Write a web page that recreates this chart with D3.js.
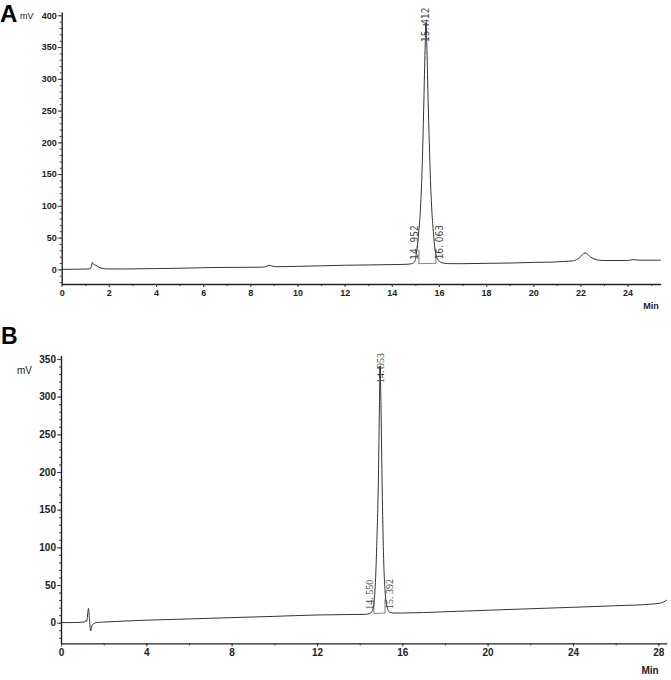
<!DOCTYPE html>
<html>
<head>
<meta charset="utf-8">
<script src="https://cdn.jsdelivr.net/npm/d3@7"></script>
<style>
  body { margin: 0; background: #fff; }
  svg { display: block; font-family: "Liberation Sans", Arial, sans-serif; }
</style>
</head>
<body>
<svg id="chart" width="671" height="680"></svg>
<script>
// ---- panel A trace: [time (min), signal (mV)] ----
var traceA = [
  [0, 0], [0.5, 0.2], [1.0, 0.5], [1.2, 0.8], [1.26, 5], [1.3, 11], [1.36, 7.5],
  [1.45, 6.5], [1.55, 4], [1.7, 2], [1.9, 0.8], [2.5, 0.6], [3.5, 1], [4.5, 1.5],
  [5.5, 2.2], [6.5, 3], [7.5, 3.2], [8.5, 3.5], [8.7, 5], [8.8, 6.5], [8.9, 5.5],
  [9.1, 4.2], [10, 4.8], [11, 5.6], [12, 6.5], [13, 7], [14, 7.5], [14.6, 8],
  [14.85, 9], [14.98, 13], [15.06, 30], [15.15, 62], [15.22, 98], [15.3, 175],
  [15.36, 265], [15.41, 345], [15.45, 385], [15.49, 345], [15.54, 265], [15.59, 200],
  [15.64, 140], [15.69, 98], [15.76, 60], [15.83, 32], [15.92, 18], [16.05, 12],
  [16.2, 9.8], [16.5, 9], [17, 9], [18, 9.5], [19, 10], [20, 11], [20.8, 11.5],
  [21.3, 12.5], [21.7, 13.5], [21.95, 18], [22.2, 26], [22.45, 19], [22.7, 15],
  [23, 14], [24, 14], [24.25, 15.5], [24.45, 14.5], [25.4, 14.5]
];

// ---- panel B trace ----
var traceB = [
  [0, 0], [0.6, 0.2], [1.1, 0.8], [1.15, 3], [1.2, 1.5], [1.29, 19], [1.34, 2],
  [1.39, -11], [1.45, -4], [1.55, -1], [1.7, 0.3], [2, 0.8], [4, 3.3], [6, 5],
  [8, 6.7], [10, 8.4], [12, 10.2], [13.5, 10.8], [14.2, 11], [14.45, 11.8],
  [14.6, 16], [14.72, 43], [14.8, 101], [14.88, 192], [14.93, 290], [14.96, 338],
  [15.0, 290], [15.05, 192], [15.11, 101], [15.19, 43], [15.28, 22], [15.4, 14],
  [15.6, 12.8], [16, 12.8], [18, 14.5], [20, 16.5], [22, 18.5], [24, 20.4],
  [26, 22.5], [27.6, 24.5], [28.1, 26], [28.4, 30]
];

// axis ticks
var xTicksA = [0, 2, 4, 6, 8, 10, 12, 14, 16, 18, 20, 22, 24];
var yTicksA = [0, 50, 100, 150, 200, 250, 300, 350, 400];
var xTicksB = [0, 4, 8, 12, 16, 20, 24, 28];
var yTicksB = [0, 50, 100, 150, 200, 250, 300, 350];

// integration marks: boundaries [time, mV], their labels, apex label
var boundsA = [[15.15, 9], [15.87, 9.5]];
var boundLabelsA = ["14. 952", "16. 063"];
var apexA = [15.45, 385];
var apexLabelA = "15. 412";

var boundsB = [[14.67, 12], [15.19, 12.8]];
var boundLabelsB = ["14. 550", "15. 392"];
var apexB = [14.96, 338];
var apexLabelB = "14. 953";

var svg = d3.select("#chart");
svg.append("rect").attr("width", 671).attr("height", 680).attr("fill", "#fff");

function drawPanel(cfg) {
  var g = svg.append("g");
  var x = d3.scaleLinear().domain(cfg.xDomain).range(cfg.xRange);
  var y = d3.scaleLinear().domain(cfg.yDomain).range(cfg.yRange);

  var xMinor = d3.range(0, cfg.xDomain[1] + 0.001, cfg.xMinorStep);
  var yMinor = d3.range(Math.ceil(cfg.yDomain[0] / 10) * 10, cfg.yDomain[1] + 0.001, 10);

  // minor ticks
  g.append("g")
    .attr("transform", "translate(0," + cfg.yRange[0] + ")")
    .call(d3.axisBottom(x).tickValues(xMinor).tickSize(2).tickFormat("").tickSizeOuter(0))
    .call(a => a.select(".domain").remove());
  g.append("g")
    .attr("transform", "translate(" + cfg.xRange[0] + ",0)")
    .call(d3.axisLeft(y).tickValues(yMinor).tickSize(2).tickFormat("").tickSizeOuter(0))
    .call(a => a.select(".domain").remove());

  // major axes
  var xa = g.append("g")
    .attr("transform", "translate(0," + cfg.yRange[0] + ")")
    .call(d3.axisBottom(x).tickValues(cfg.xTicks).tickSize(3).tickPadding(3).tickSizeOuter(0));
  var ya = g.append("g")
    .attr("transform", "translate(" + cfg.xRange[0] + ",0)")
    .call(d3.axisLeft(y).tickValues(cfg.yTicks).tickSize(4).tickPadding(1).tickSizeOuter(0));

  [xa, ya].forEach(function(a) {
    a.select(".domain").attr("stroke", "#222").attr("stroke-width", 1.4);
    a.selectAll(".tick text")
      .attr("fill", "#222")
      .style("font-size", cfg.fontSize + "px")
      .style("font-weight", "bold")
      .style("font-family", '"Liberation Sans", Arial, sans-serif');
  });
  g.selectAll(".tick line").attr("stroke", "#444");

  // trace
  var line = d3.line()
    .x(d => x(d[0]))
    .y(d => y(d[1]))
    .curve(d3.curveMonotoneX);

  g.append("path")
    .datum(cfg.trace)
    .attr("d", line)
    .attr("fill", "none")
    .attr("stroke", "#333")
    .attr("stroke-width", 1);

  // integration baseline and drop lines
  g.append("line")
    .attr("x1", x(cfg.bounds[0][0])).attr("y1", y(cfg.bounds[0][1]))
    .attr("x2", x(cfg.bounds[1][0])).attr("y2", y(cfg.bounds[1][1]))
    .attr("stroke", "#666").attr("stroke-width", 0.8);

  cfg.bounds.forEach(function(b, i) {
    g.append("line")
      .attr("x1", x(b[0])).attr("x2", x(b[0]))
      .attr("y1", y(b[1])).attr("y2", y(b[1]) - 14)
      .attr("stroke", "#555").attr("stroke-width", 0.8);
    var lx = x(b[0]) + (i === 0 ? -4 : 4);
    var ly = y(b[1]) - 4;
    g.append("text")
      .attr("transform", "translate(" + lx + "," + ly + ") rotate(-90)")
      .attr("text-anchor", "start")
      .attr("dominant-baseline", "central")
      .attr("fill", "#444")
      .style("font-family", cfg.labelFont)
      .style("font-size", "10px")
      .text(cfg.boundLabels[i]);
  });

  // apex label + tick
  var ax = x(cfg.apex[0]), ay = y(cfg.apex[1]);
  g.append("text")
    .attr("transform", "translate(" + ax + "," + ay + ") rotate(-90)")
    .attr("text-anchor", "middle")
    .attr("dominant-baseline", "central")
    .attr("fill", "#444")
    .style("font-family", cfg.labelFont)
    .style("font-size", "10px")
    .text(cfg.apexLabel);
  g.append("line")
    .attr("x1", ax - 3).attr("x2", ax + 3)
    .attr("y1", ay).attr("y2", ay)
    .attr("stroke", "#333").attr("stroke-width", 1);
  g.append("line")
    .attr("x1", ax).attr("x2", ax)
    .attr("y1", ay - 2).attr("y2", ay + 10)
    .attr("stroke", "#333").attr("stroke-width", 1.4);

  // panel letter, units
  g.append("text")
    .attr("x", cfg.letterPos[0]).attr("y", cfg.letterPos[1])
    .style("font-size", cfg.letterSize + "px")
    .style("font-weight", "bold")
    .attr("fill", "#000")
    .text(cfg.letter);
  g.append("text")
    .attr("x", cfg.mvPos[0]).attr("y", cfg.mvPos[1])
    .style("font-size", cfg.fontSize + "px")
    .attr("fill", "#222")
    .text("mV");
  g.append("text")
    .attr("x", cfg.minPos[0]).attr("y", cfg.minPos[1])
    .attr("text-anchor", "middle")
    .style("font-size", cfg.fontSize + "px")
    .style("font-weight", "bold")
    .attr("fill", "#222")
    .text("Min");
}

drawPanel({
  trace: traceA,
  xDomain: [0, 25.4], xRange: [61.7, 660.6],
  yDomain: [-23, 405], yRange: [284, 12.1],
  xTicks: xTicksA, yTicks: yTicksA, xMinorStep: 1,
  bounds: boundsA, boundLabels: boundLabelsA,
  apex: apexA, apexLabel: apexLabelA,
  labelFont: '"Liberation Sans Narrow", "DejaVu Sans Condensed", sans-serif',
  fontSize: 9,
  letter: "A", letterSize: 24, letterPos: [0, 22],
  mvPos: [20, 19], minPos: [651, 309]
});

drawPanel({
  trace: traceB,
  xDomain: [0, 28.4], xRange: [61, 666.8],
  yDomain: [-27.5, 355], yRange: [643.4, 355.2],
  xTicks: xTicksB, yTicks: yTicksB, xMinorStep: 2,
  bounds: boundsB, boundLabels: boundLabelsB,
  apex: apexB, apexLabel: apexLabelB,
  labelFont: '"Liberation Serif", "Times New Roman", serif',
  fontSize: 10,
  letter: "B", letterSize: 23, letterPos: [1, 344],
  mvPos: [17, 374], minPos: [650, 674]
});
</script>
</body>
</html>
